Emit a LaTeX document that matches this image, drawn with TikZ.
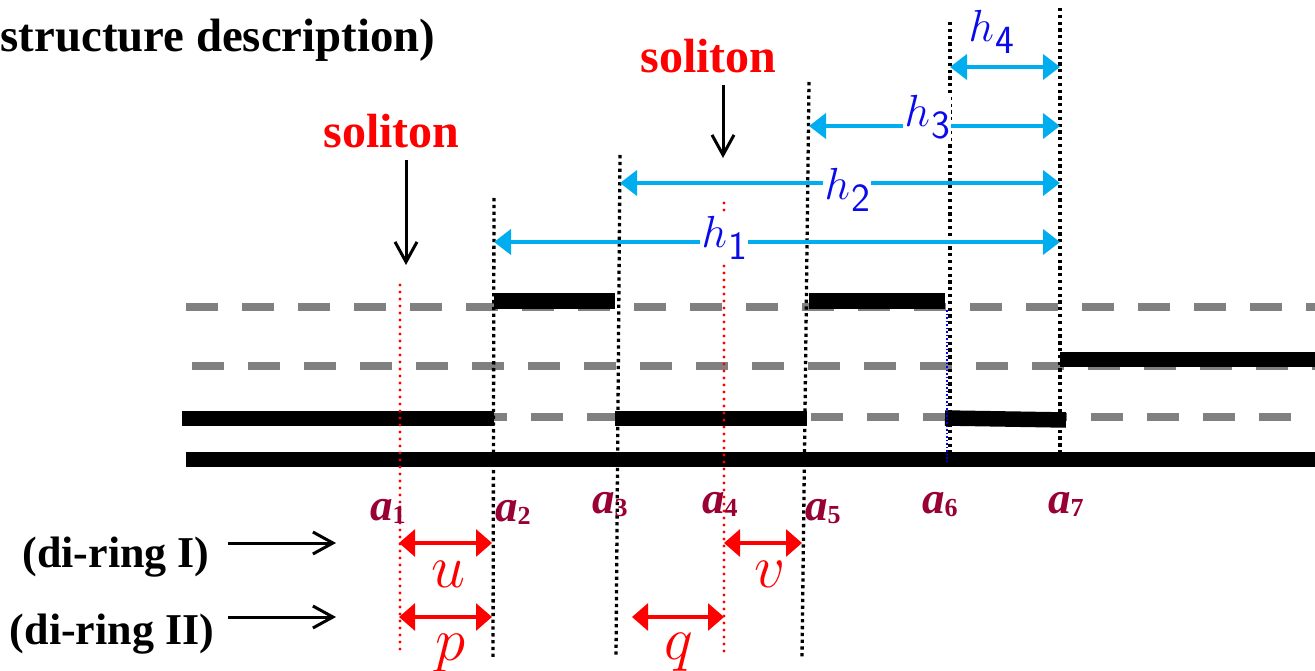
\documentclass[tikz,border=0pt]{standalone}
\usepackage{fix-cm}
\usepackage{fontspec}
\setmainfont{Liberation Serif}
\usetikzlibrary{arrows.meta}
\definecolor{hcyan}{RGB}{0,174,239}
\definecolor{hblue}{RGB}{10,10,235}
\definecolor{adark}{RGB}{153,0,51}
\definecolor{dgray}{RGB}{128,128,128}
\newcommand{\alab}[1]{{\fontsize{45}{45}\selectfont\bfseries\itshape a}\raisebox{-3pt}{\fontsize{26}{26}\selectfont\bfseries #1}}
\newcommand{\hlab}[1]{{\fontsize{45}{45}\selectfont$h$}\kern1pt\raisebox{-12pt}{\fontsize{40}{40}\selectfont\sffamily #1}}
\newcommand{\mlab}[1]{{\fontsize{61}{61}\selectfont$#1$}}
\begin{document}
\begin{tikzpicture}[x=1pt,y=-1pt,
  graydash/.style={dgray,line width=8pt,dash pattern=on 32pt off 24pt},
  bar/.style={black,line width=15.5pt},
  bdot/.style={black,line width=3.3pt,dash pattern=on 3.3pt off 3.5pt},
  rdot/.style={red,line width=3.2pt,line cap=round,dash pattern=on 0pt off 7pt},
  bldot/.style={blue,line width=1.5pt,dash pattern=on 1.5pt off 2pt},
  harr/.style={hcyan,line width=4pt,{Triangle[length=17pt,width=25pt]}-{Triangle[length=17pt,width=25pt]}},
  rarr/.style={red,line width=3.2pt,{Triangle[length=16pt,width=27pt]}-{Triangle[length=16pt,width=27pt]}},
  karr/.style={black,line width=3pt,-{Straight Barb[length=20pt,width=22pt]}},
  bigtext/.style={inner sep=0pt,font=\fontsize{48}{48}\selectfont\bfseries},
  ringtext/.style={inner sep=0pt,font=\fontsize{44}{44}\selectfont\bfseries},
  alabel/.style={inner sep=0pt,anchor=base west,text=adark},
  hlabel/.style={inner sep=1.5pt,anchor=base west,text=hblue,fill=white},
  mlabel/.style={inner sep=0pt,anchor=base,text=red}
]
\useasboundingbox (0,0) rectangle (1315,671);

% ---- rows: gray dashed guide lines
\draw[graydash] (186,307) -- (1315,307);
\draw[graydash] (192,365.5) -- (1315,365.5);
\draw[graydash] (195,417) -- (1315,417);

% ---- black bars
\draw[bar] (494,301) -- (615,301);
\draw[bar] (809,301) -- (945,301);
\draw[bar] (1060,359.5) -- (1315,359.5);
\draw[bar] (182,418.5) -- (494,418.5);
\draw[bar] (615,418.5) -- (807,418.5);
\draw[bar] (945,418) -- (1066,420);
\draw[bar] (186,459.5) -- (1315,459.5);

% ---- vertical reference lines
\coordinate (a1t) at (400,285);  \coordinate (a1b) at (400,655);
\coordinate (a2t) at (494,198);  \coordinate (a2b) at (493,660);
\coordinate (a3t) at (620,155);  \coordinate (a3b) at (616,657);
\coordinate (a4t) at (724,203);  \coordinate (a4b) at (724,656);
\coordinate (a5t) at (809,82);   \coordinate (a5b) at (802,657);
\coordinate (a6t) at (950,22);   \coordinate (a6b) at (950,455);
\coordinate (a7t) at (1060,8);   \coordinate (a7b) at (1060,453);
\coordinate (b6t) at (947,310);  \coordinate (b6b) at (947,463);

\draw[rdot] (a1t) -- (a1b);
\draw[bdot] (a2t) -- (a2b);
\draw[bdot] (a3t) -- (a3b);
\draw[rdot] (a4t) -- (a4b);
\draw[bdot] (a5t) -- (a5b);
\draw[bdot] (a6t) -- (a6b);
\draw[bldot] (b6t) -- (b6b);
\draw[bdot] (a7t) -- (a7b);

% ---- h arrows
\coordinate (h1l) at (494,242);  \coordinate (h1r) at (1060,242);
\coordinate (h2l) at (620,183);  \coordinate (h2r) at (1060,183);
\coordinate (h3l) at (809,126);  \coordinate (h3r) at (1060,126);
\coordinate (h4l) at (950,67);   \coordinate (h4r) at (1060,67);
\draw[harr] (h1l) -- (h1r);
\draw[harr] (h2l) -- (h2r);
\draw[harr] (h3l) -- (h3r);
\draw[harr] (h4l) -- (h4r);
\node[hlabel] (h1) at (700,248) {\hlab{1}};
\node[hlabel] (h2) at (823,200) {\hlab{2}};
\node[hlabel] (h3) at (903,127) {\hlab{3}};
\node[hlabel] (h4) at (967,42) {\hlab{4}};

% ---- texts
\node[bigtext,anchor=base west,font=\fontsize{46.8}{48}\selectfont\bfseries] (title) at (0.5,52) {structure description)};
\node[bigtext,anchor=base,text=red] (sol1) at (391.5,148) {soliton};
\node[bigtext,anchor=base,text=red] (sol2) at (708.5,73) {soliton};
\coordinate (s1a) at (406,160); \coordinate (s1b) at (406,265);
\coordinate (s2a) at (723,85);  \coordinate (s2b) at (723,158);
\draw[karr] (s1a) -- (s1b);
\draw[karr] (s2a) -- (s2b);

\node[ringtext,anchor=base] (ring1) at (116,567) {(di-ring I)};
\node[ringtext,anchor=base] (ring2) at (112,644) {(di-ring II)};
\coordinate (r1a) at (228,543); \coordinate (r1b) at (336,543);
\coordinate (r2a) at (228,617); \coordinate (r2b) at (336,617);
\draw[karr] (r1a) -- (r1b);
\draw[karr] (r2a) -- (r2b);

% ---- a labels
\node[alabel] (la1) at (370,520) {\alab{1}};
\node[alabel] (la2) at (495,521) {\alab{2}};
\node[alabel] (la3) at (592,513) {\alab{3}};
\node[alabel] (la4) at (702,513) {\alab{4}};
\node[alabel] (la5) at (805,520) {\alab{5}};
\node[alabel] (la6) at (922,513) {\alab{6}};
\node[alabel] (la7) at (1048,513) {\alab{7}};

% ---- red distance arrows
\coordinate (ul) at (399,543); \coordinate (ur) at (492,543);
\coordinate (pl) at (399,617); \coordinate (pr) at (492,617);
\coordinate (vl) at (724,543); \coordinate (vr) at (802,543);
\coordinate (ql) at (632,617); \coordinate (qr) at (724,617);
\draw[rarr] (ul) -- (ur);
\draw[rarr] (pl) -- (pr);
\draw[rarr] (vl) -- (vr);
\draw[rarr] (ql) -- (qr);
\node[mlabel] (u) at (448.5,587) {\mlab{u}};
\node[mlabel] (p) at (450,660) {\mlab{p}};
\node[mlabel] (v) at (770,587) {\mlab{v}};
\node[mlabel] (q) at (679,659) {\mlab{q}};
\end{tikzpicture}
\end{document}
